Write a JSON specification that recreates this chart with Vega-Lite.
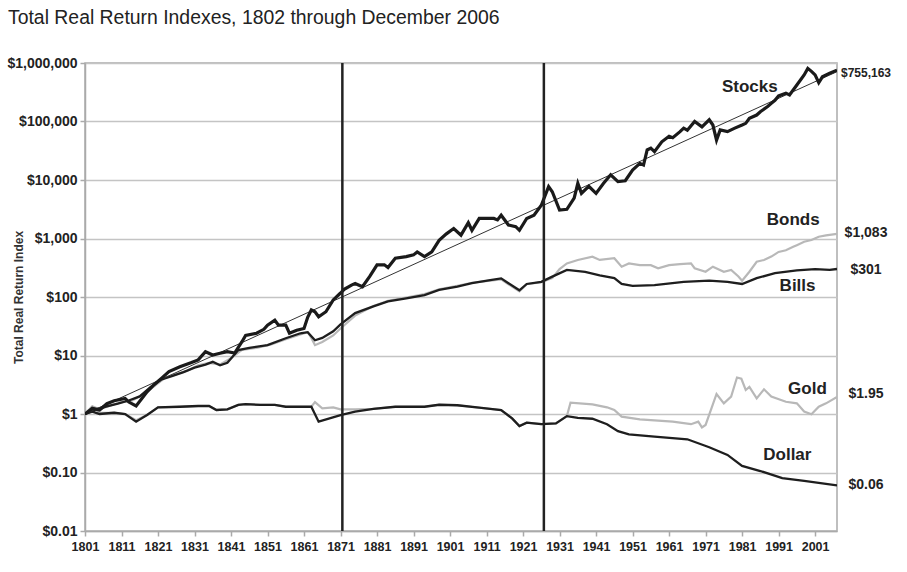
{
  "$schema": "https://vega.github.io/schema/vega-lite/v6.json",
  "width": 752,
  "height": 468,
  "autosize": {"type": "none"},
  "padding": {"left": 85, "top": 63, "right": 70, "bottom": 41},
  "background": "white",
  "title": {
    "text": "Total Real Return Indexes, 1802 through December 2006",
    "anchor": "start",
    "frame": "group",
    "dx": -77,
    "offset": 28,
    "fontSize": 19.4,
    "fontWeight": "normal",
    "font": "Liberation Sans",
    "color": "#222222"
  },
  "config": {
    "view": {"stroke": "#aaaaaa", "strokeWidth": 1.5},
    "font": "Liberation Sans",
    "axis": {"labelOverlap": false}
  },
  "datasets": {
    "lines": [
      {"series": "Stocks", "year": 1801, "value": 1},
      {"series": "Stocks", "year": 1803, "value": 1.25},
      {"series": "Stocks", "year": 1805, "value": 1.17},
      {"series": "Stocks", "year": 1807, "value": 1.5},
      {"series": "Stocks", "year": 1809, "value": 1.69},
      {"series": "Stocks", "year": 1812, "value": 1.85},
      {"series": "Stocks", "year": 1813, "value": 1.6},
      {"series": "Stocks", "year": 1815, "value": 1.37},
      {"series": "Stocks", "year": 1818, "value": 2.4},
      {"series": "Stocks", "year": 1820, "value": 3.2},
      {"series": "Stocks", "year": 1822, "value": 4.1},
      {"series": "Stocks", "year": 1824, "value": 5.3},
      {"series": "Stocks", "year": 1827, "value": 6.4},
      {"series": "Stocks", "year": 1830, "value": 7.5},
      {"series": "Stocks", "year": 1832, "value": 8.4},
      {"series": "Stocks", "year": 1834, "value": 11.6},
      {"series": "Stocks", "year": 1836, "value": 10.2},
      {"series": "Stocks", "year": 1838, "value": 10.9},
      {"series": "Stocks", "year": 1840, "value": 11.6},
      {"series": "Stocks", "year": 1842, "value": 11},
      {"series": "Stocks", "year": 1844, "value": 17.2},
      {"series": "Stocks", "year": 1845, "value": 22},
      {"series": "Stocks", "year": 1848, "value": 24},
      {"series": "Stocks", "year": 1850, "value": 28},
      {"series": "Stocks", "year": 1851, "value": 33},
      {"series": "Stocks", "year": 1853, "value": 40},
      {"series": "Stocks", "year": 1854, "value": 33},
      {"series": "Stocks", "year": 1856, "value": 33},
      {"series": "Stocks", "year": 1857, "value": 24},
      {"series": "Stocks", "year": 1859, "value": 27},
      {"series": "Stocks", "year": 1861, "value": 29},
      {"series": "Stocks", "year": 1862, "value": 45},
      {"series": "Stocks", "year": 1863, "value": 60},
      {"series": "Stocks", "year": 1864, "value": 56},
      {"series": "Stocks", "year": 1865, "value": 46},
      {"series": "Stocks", "year": 1867, "value": 56},
      {"series": "Stocks", "year": 1869, "value": 89},
      {"series": "Stocks", "year": 1871, "value": 117},
      {"series": "Stocks", "year": 1872, "value": 135},
      {"series": "Stocks", "year": 1874, "value": 160},
      {"series": "Stocks", "year": 1875, "value": 170},
      {"series": "Stocks", "year": 1877, "value": 150},
      {"series": "Stocks", "year": 1879, "value": 225},
      {"series": "Stocks", "year": 1881, "value": 355},
      {"series": "Stocks", "year": 1883, "value": 355},
      {"series": "Stocks", "year": 1884, "value": 320},
      {"series": "Stocks", "year": 1886, "value": 460},
      {"series": "Stocks", "year": 1889, "value": 490},
      {"series": "Stocks", "year": 1891, "value": 525},
      {"series": "Stocks", "year": 1892, "value": 590},
      {"series": "Stocks", "year": 1894, "value": 490},
      {"series": "Stocks", "year": 1896, "value": 590},
      {"series": "Stocks", "year": 1898, "value": 930},
      {"series": "Stocks", "year": 1900, "value": 1200},
      {"series": "Stocks", "year": 1902, "value": 1480},
      {"series": "Stocks", "year": 1904, "value": 1140},
      {"series": "Stocks", "year": 1906, "value": 1860},
      {"series": "Stocks", "year": 1907, "value": 1380},
      {"series": "Stocks", "year": 1909, "value": 2200},
      {"series": "Stocks", "year": 1913, "value": 2200},
      {"series": "Stocks", "year": 1914, "value": 2080},
      {"series": "Stocks", "year": 1915, "value": 2500},
      {"series": "Stocks", "year": 1917, "value": 1700},
      {"series": "Stocks", "year": 1919, "value": 1590},
      {"series": "Stocks", "year": 1920, "value": 1380},
      {"series": "Stocks", "year": 1922, "value": 2200},
      {"series": "Stocks", "year": 1924, "value": 2500},
      {"series": "Stocks", "year": 1926, "value": 3700},
      {"series": "Stocks", "year": 1928, "value": 7700},
      {"series": "Stocks", "year": 1929, "value": 6300},
      {"series": "Stocks", "year": 1931, "value": 3070},
      {"series": "Stocks", "year": 1933, "value": 3150},
      {"series": "Stocks", "year": 1935, "value": 4900},
      {"series": "Stocks", "year": 1936, "value": 8800},
      {"series": "Stocks", "year": 1937, "value": 5900},
      {"series": "Stocks", "year": 1939, "value": 7800},
      {"series": "Stocks", "year": 1941, "value": 5900},
      {"series": "Stocks", "year": 1943, "value": 8700},
      {"series": "Stocks", "year": 1945, "value": 12300},
      {"series": "Stocks", "year": 1947, "value": 9400},
      {"series": "Stocks", "year": 1949, "value": 9700},
      {"series": "Stocks", "year": 1951, "value": 14800},
      {"series": "Stocks", "year": 1953, "value": 19300},
      {"series": "Stocks", "year": 1954, "value": 18000},
      {"series": "Stocks", "year": 1955, "value": 32600},
      {"series": "Stocks", "year": 1956, "value": 35000},
      {"series": "Stocks", "year": 1957, "value": 30500},
      {"series": "Stocks", "year": 1959, "value": 45000},
      {"series": "Stocks", "year": 1961, "value": 56000},
      {"series": "Stocks", "year": 1962, "value": 53000},
      {"series": "Stocks", "year": 1964, "value": 67000},
      {"series": "Stocks", "year": 1965, "value": 77000},
      {"series": "Stocks", "year": 1966, "value": 71000},
      {"series": "Stocks", "year": 1968, "value": 100000},
      {"series": "Stocks", "year": 1970, "value": 81000},
      {"series": "Stocks", "year": 1972, "value": 107000},
      {"series": "Stocks", "year": 1973, "value": 87000},
      {"series": "Stocks", "year": 1974, "value": 48000},
      {"series": "Stocks", "year": 1975, "value": 72000},
      {"series": "Stocks", "year": 1977, "value": 67000},
      {"series": "Stocks", "year": 1979, "value": 77000},
      {"series": "Stocks", "year": 1981, "value": 87000},
      {"series": "Stocks", "year": 1982, "value": 93000},
      {"series": "Stocks", "year": 1983, "value": 113000},
      {"series": "Stocks", "year": 1985, "value": 129000},
      {"series": "Stocks", "year": 1986, "value": 147000},
      {"series": "Stocks", "year": 1988, "value": 180000},
      {"series": "Stocks", "year": 1989, "value": 204000},
      {"series": "Stocks", "year": 1990, "value": 230000},
      {"series": "Stocks", "year": 1991, "value": 274000},
      {"series": "Stocks", "year": 1993, "value": 305000},
      {"series": "Stocks", "year": 1994, "value": 284000},
      {"series": "Stocks", "year": 1996, "value": 420000},
      {"series": "Stocks", "year": 1998, "value": 625000},
      {"series": "Stocks", "year": 1999, "value": 810000},
      {"series": "Stocks", "year": 2000, "value": 720000},
      {"series": "Stocks", "year": 2001, "value": 625000},
      {"series": "Stocks", "year": 2002, "value": 460000},
      {"series": "Stocks", "year": 2003, "value": 580000},
      {"series": "Stocks", "year": 2005, "value": 670000},
      {"series": "Stocks", "year": 2007, "value": 755163},

      {"series": "Bills", "year": 1801, "value": 1},
      {"series": "Bills", "year": 1804, "value": 1.2},
      {"series": "Bills", "year": 1807, "value": 1.35},
      {"series": "Bills", "year": 1810, "value": 1.5},
      {"series": "Bills", "year": 1813, "value": 1.7},
      {"series": "Bills", "year": 1816, "value": 2.0},
      {"series": "Bills", "year": 1819, "value": 2.9},
      {"series": "Bills", "year": 1822, "value": 3.9},
      {"series": "Bills", "year": 1825, "value": 4.5},
      {"series": "Bills", "year": 1828, "value": 5.2},
      {"series": "Bills", "year": 1831, "value": 6.2},
      {"series": "Bills", "year": 1834, "value": 7.0},
      {"series": "Bills", "year": 1836, "value": 7.8},
      {"series": "Bills", "year": 1838, "value": 6.8},
      {"series": "Bills", "year": 1840, "value": 7.5},
      {"series": "Bills", "year": 1843, "value": 12.4},
      {"series": "Bills", "year": 1846, "value": 13.5},
      {"series": "Bills", "year": 1851, "value": 15},
      {"series": "Bills", "year": 1856, "value": 19.7},
      {"series": "Bills", "year": 1860, "value": 24},
      {"series": "Bills", "year": 1862, "value": 25},
      {"series": "Bills", "year": 1864, "value": 18.2},
      {"series": "Bills", "year": 1866, "value": 20},
      {"series": "Bills", "year": 1869, "value": 26},
      {"series": "Bills", "year": 1871, "value": 34},
      {"series": "Bills", "year": 1875, "value": 53},
      {"series": "Bills", "year": 1880, "value": 69},
      {"series": "Bills", "year": 1884, "value": 84},
      {"series": "Bills", "year": 1889, "value": 95},
      {"series": "Bills", "year": 1894, "value": 108},
      {"series": "Bills", "year": 1898, "value": 132},
      {"series": "Bills", "year": 1903, "value": 150},
      {"series": "Bills", "year": 1907, "value": 172},
      {"series": "Bills", "year": 1912, "value": 195},
      {"series": "Bills", "year": 1915, "value": 208},
      {"series": "Bills", "year": 1917, "value": 172},
      {"series": "Bills", "year": 1920, "value": 130},
      {"series": "Bills", "year": 1922, "value": 167},
      {"series": "Bills", "year": 1926, "value": 182},
      {"series": "Bills", "year": 1929, "value": 223},
      {"series": "Bills", "year": 1933, "value": 290},
      {"series": "Bills", "year": 1938, "value": 268},
      {"series": "Bills", "year": 1942, "value": 235},
      {"series": "Bills", "year": 1946, "value": 210},
      {"series": "Bills", "year": 1948, "value": 167},
      {"series": "Bills", "year": 1951, "value": 155},
      {"series": "Bills", "year": 1957, "value": 160},
      {"series": "Bills", "year": 1965, "value": 182},
      {"series": "Bills", "year": 1972, "value": 190},
      {"series": "Bills", "year": 1977, "value": 182},
      {"series": "Bills", "year": 1981, "value": 167},
      {"series": "Bills", "year": 1985, "value": 210},
      {"series": "Bills", "year": 1990, "value": 255},
      {"series": "Bills", "year": 1996, "value": 285},
      {"series": "Bills", "year": 2001, "value": 300},
      {"series": "Bills", "year": 2005, "value": 290},
      {"series": "Bills", "year": 2007, "value": 301},

      {"series": "Bonds", "year": 1801, "value": 1},
      {"series": "Bonds", "year": 1803, "value": 1.35},
      {"series": "Bonds", "year": 1805, "value": 1.2},
      {"series": "Bonds", "year": 1808, "value": 1.4},
      {"series": "Bonds", "year": 1811, "value": 1.6},
      {"series": "Bonds", "year": 1814, "value": 1.7},
      {"series": "Bonds", "year": 1817, "value": 2.2},
      {"series": "Bonds", "year": 1820, "value": 3.0},
      {"series": "Bonds", "year": 1823, "value": 4.2},
      {"series": "Bonds", "year": 1826, "value": 4.8},
      {"series": "Bonds", "year": 1829, "value": 5.5},
      {"series": "Bonds", "year": 1832, "value": 6.8},
      {"series": "Bonds", "year": 1835, "value": 7.5},
      {"series": "Bonds", "year": 1838, "value": 7.0},
      {"series": "Bonds", "year": 1841, "value": 9},
      {"series": "Bonds", "year": 1844, "value": 12.5},
      {"series": "Bonds", "year": 1848, "value": 13.5},
      {"series": "Bonds", "year": 1852, "value": 15.5},
      {"series": "Bonds", "year": 1856, "value": 19},
      {"series": "Bonds", "year": 1860, "value": 23},
      {"series": "Bonds", "year": 1862, "value": 25},
      {"series": "Bonds", "year": 1863, "value": 20},
      {"series": "Bonds", "year": 1864, "value": 15},
      {"series": "Bonds", "year": 1866, "value": 17},
      {"series": "Bonds", "year": 1869, "value": 22},
      {"series": "Bonds", "year": 1871, "value": 29},
      {"series": "Bonds", "year": 1875, "value": 48},
      {"series": "Bonds", "year": 1880, "value": 70},
      {"series": "Bonds", "year": 1884, "value": 86},
      {"series": "Bonds", "year": 1889, "value": 98},
      {"series": "Bonds", "year": 1894, "value": 112},
      {"series": "Bonds", "year": 1898, "value": 135},
      {"series": "Bonds", "year": 1903, "value": 155},
      {"series": "Bonds", "year": 1907, "value": 175},
      {"series": "Bonds", "year": 1912, "value": 190},
      {"series": "Bonds", "year": 1915, "value": 200},
      {"series": "Bonds", "year": 1917, "value": 165},
      {"series": "Bonds", "year": 1920, "value": 125},
      {"series": "Bonds", "year": 1922, "value": 165},
      {"series": "Bonds", "year": 1926, "value": 180},
      {"series": "Bonds", "year": 1929, "value": 210},
      {"series": "Bonds", "year": 1931, "value": 300},
      {"series": "Bonds", "year": 1933, "value": 375},
      {"series": "Bonds", "year": 1936, "value": 430},
      {"series": "Bonds", "year": 1940, "value": 490},
      {"series": "Bonds", "year": 1942, "value": 430},
      {"series": "Bonds", "year": 1946, "value": 460},
      {"series": "Bonds", "year": 1948, "value": 330},
      {"series": "Bonds", "year": 1950, "value": 375},
      {"series": "Bonds", "year": 1953, "value": 350},
      {"series": "Bonds", "year": 1956, "value": 350},
      {"series": "Bonds", "year": 1958, "value": 310},
      {"series": "Bonds", "year": 1961, "value": 350},
      {"series": "Bonds", "year": 1964, "value": 365},
      {"series": "Bonds", "year": 1967, "value": 375},
      {"series": "Bonds", "year": 1968, "value": 310},
      {"series": "Bonds", "year": 1971, "value": 270},
      {"series": "Bonds", "year": 1973, "value": 330},
      {"series": "Bonds", "year": 1976, "value": 270},
      {"series": "Bonds", "year": 1978, "value": 290},
      {"series": "Bonds", "year": 1980, "value": 224},
      {"series": "Bonds", "year": 1981, "value": 190},
      {"series": "Bonds", "year": 1983, "value": 270},
      {"series": "Bonds", "year": 1985, "value": 400},
      {"series": "Bonds", "year": 1987, "value": 430},
      {"series": "Bonds", "year": 1989, "value": 490},
      {"series": "Bonds", "year": 1991, "value": 590},
      {"series": "Bonds", "year": 1993, "value": 630},
      {"series": "Bonds", "year": 1995, "value": 720},
      {"series": "Bonds", "year": 1996, "value": 770},
      {"series": "Bonds", "year": 1998, "value": 880},
      {"series": "Bonds", "year": 2000, "value": 940},
      {"series": "Bonds", "year": 2002, "value": 1070},
      {"series": "Bonds", "year": 2004, "value": 1130},
      {"series": "Bonds", "year": 2007, "value": 1200},

      {"series": "Dollar", "year": 1801, "value": 1},
      {"series": "Dollar", "year": 1803, "value": 1.1},
      {"series": "Dollar", "year": 1805, "value": 1.0},
      {"series": "Dollar", "year": 1809, "value": 1.05},
      {"series": "Dollar", "year": 1812, "value": 1.0},
      {"series": "Dollar", "year": 1815, "value": 0.74},
      {"series": "Dollar", "year": 1818, "value": 0.96},
      {"series": "Dollar", "year": 1821, "value": 1.3},
      {"series": "Dollar", "year": 1827, "value": 1.33},
      {"series": "Dollar", "year": 1832, "value": 1.37},
      {"series": "Dollar", "year": 1835, "value": 1.37},
      {"series": "Dollar", "year": 1837, "value": 1.17},
      {"series": "Dollar", "year": 1840, "value": 1.2},
      {"series": "Dollar", "year": 1843, "value": 1.43},
      {"series": "Dollar", "year": 1845, "value": 1.48},
      {"series": "Dollar", "year": 1849, "value": 1.43},
      {"series": "Dollar", "year": 1853, "value": 1.43},
      {"series": "Dollar", "year": 1856, "value": 1.33},
      {"series": "Dollar", "year": 1860, "value": 1.33},
      {"series": "Dollar", "year": 1863, "value": 1.33},
      {"series": "Dollar", "year": 1865, "value": 0.74},
      {"series": "Dollar", "year": 1868, "value": 0.84},
      {"series": "Dollar", "year": 1871, "value": 0.96},
      {"series": "Dollar", "year": 1875, "value": 1.1},
      {"series": "Dollar", "year": 1880, "value": 1.22},
      {"series": "Dollar", "year": 1886, "value": 1.33},
      {"series": "Dollar", "year": 1894, "value": 1.33},
      {"series": "Dollar", "year": 1898, "value": 1.44},
      {"series": "Dollar", "year": 1903, "value": 1.41},
      {"series": "Dollar", "year": 1909, "value": 1.28},
      {"series": "Dollar", "year": 1915, "value": 1.17},
      {"series": "Dollar", "year": 1918, "value": 0.84},
      {"series": "Dollar", "year": 1920, "value": 0.62},
      {"series": "Dollar", "year": 1922, "value": 0.71},
      {"series": "Dollar", "year": 1926, "value": 0.67},
      {"series": "Dollar", "year": 1930, "value": 0.69},
      {"series": "Dollar", "year": 1933, "value": 0.92},
      {"series": "Dollar", "year": 1936, "value": 0.86},
      {"series": "Dollar", "year": 1940, "value": 0.83},
      {"series": "Dollar", "year": 1944, "value": 0.67},
      {"series": "Dollar", "year": 1947, "value": 0.51},
      {"series": "Dollar", "year": 1950, "value": 0.45},
      {"series": "Dollar", "year": 1957, "value": 0.41},
      {"series": "Dollar", "year": 1966, "value": 0.37},
      {"series": "Dollar", "year": 1972, "value": 0.27},
      {"series": "Dollar", "year": 1977, "value": 0.2},
      {"series": "Dollar", "year": 1981, "value": 0.13},
      {"series": "Dollar", "year": 1986, "value": 0.106},
      {"series": "Dollar", "year": 1992, "value": 0.08},
      {"series": "Dollar", "year": 1998, "value": 0.072},
      {"series": "Dollar", "year": 2007, "value": 0.06},

      {"series": "Gold", "year": 1801, "value": 1},
      {"series": "Gold", "year": 1803, "value": 1.33},
      {"series": "Gold", "year": 1805, "value": 1.05},
      {"series": "Gold", "year": 1809, "value": 1.05},
      {"series": "Gold", "year": 1812, "value": 1.0},
      {"series": "Gold", "year": 1815, "value": 0.78},
      {"series": "Gold", "year": 1818, "value": 0.96},
      {"series": "Gold", "year": 1821, "value": 1.3},
      {"series": "Gold", "year": 1827, "value": 1.33},
      {"series": "Gold", "year": 1832, "value": 1.37},
      {"series": "Gold", "year": 1835, "value": 1.37},
      {"series": "Gold", "year": 1837, "value": 1.17},
      {"series": "Gold", "year": 1840, "value": 1.2},
      {"series": "Gold", "year": 1843, "value": 1.43},
      {"series": "Gold", "year": 1845, "value": 1.48},
      {"series": "Gold", "year": 1849, "value": 1.43},
      {"series": "Gold", "year": 1853, "value": 1.43},
      {"series": "Gold", "year": 1856, "value": 1.33},
      {"series": "Gold", "year": 1860, "value": 1.33},
      {"series": "Gold", "year": 1863, "value": 1.33},
      {"series": "Gold", "year": 1864, "value": 1.6},
      {"series": "Gold", "year": 1866, "value": 1.25},
      {"series": "Gold", "year": 1869, "value": 1.3},
      {"series": "Gold", "year": 1871, "value": 1.2},
      {"series": "Gold", "year": 1875, "value": 1.2},
      {"series": "Gold", "year": 1880, "value": 1.22},
      {"series": "Gold", "year": 1886, "value": 1.33},
      {"series": "Gold", "year": 1894, "value": 1.33},
      {"series": "Gold", "year": 1898, "value": 1.44},
      {"series": "Gold", "year": 1903, "value": 1.41},
      {"series": "Gold", "year": 1909, "value": 1.28},
      {"series": "Gold", "year": 1915, "value": 1.17},
      {"series": "Gold", "year": 1918, "value": 0.84},
      {"series": "Gold", "year": 1920, "value": 0.62},
      {"series": "Gold", "year": 1922, "value": 0.71},
      {"series": "Gold", "year": 1926, "value": 0.67},
      {"series": "Gold", "year": 1930, "value": 0.69},
      {"series": "Gold", "year": 1933, "value": 0.92},
      {"series": "Gold", "year": 1934, "value": 1.56},
      {"series": "Gold", "year": 1940, "value": 1.46},
      {"series": "Gold", "year": 1944, "value": 1.3},
      {"series": "Gold", "year": 1946, "value": 1.17},
      {"series": "Gold", "year": 1948, "value": 0.9},
      {"series": "Gold", "year": 1953, "value": 0.81},
      {"series": "Gold", "year": 1962, "value": 0.74},
      {"series": "Gold", "year": 1967, "value": 0.67},
      {"series": "Gold", "year": 1969, "value": 0.74},
      {"series": "Gold", "year": 1970, "value": 0.59},
      {"series": "Gold", "year": 1971, "value": 0.65},
      {"series": "Gold", "year": 1974, "value": 2.2},
      {"series": "Gold", "year": 1976, "value": 1.52},
      {"series": "Gold", "year": 1978, "value": 1.98},
      {"series": "Gold", "year": 1979.6, "value": 4.2},
      {"series": "Gold", "year": 1980.8, "value": 4.0},
      {"series": "Gold", "year": 1982, "value": 2.57},
      {"series": "Gold", "year": 1983, "value": 2.9},
      {"series": "Gold", "year": 1985, "value": 1.85},
      {"series": "Gold", "year": 1987, "value": 2.64},
      {"series": "Gold", "year": 1989, "value": 1.98},
      {"series": "Gold", "year": 1993, "value": 1.62},
      {"series": "Gold", "year": 1996, "value": 1.52},
      {"series": "Gold", "year": 1998, "value": 1.1},
      {"series": "Gold", "year": 2000, "value": 0.99},
      {"series": "Gold", "year": 2002, "value": 1.33},
      {"series": "Gold", "year": 2004, "value": 1.52},
      {"series": "Gold", "year": 2007, "value": 1.95},

      {"series": "Trend", "year": 1801, "value": 1},
      {"series": "Trend", "year": 2007, "value": 710000}
    ],
    "vlines": [{"year": 1871.5}, {"year": 1926.7}],
    "names": [
      {"label": "Stocks", "year": 1983.1, "value": 389000},
      {"label": "Bonds", "year": 1995.0, "value": 2070},
      {"label": "Bills", "year": 1996.2, "value": 152},
      {"label": "Gold", "year": 1998.9, "value": 2.67},
      {"label": "Dollar", "year": 1993.4, "value": 0.2}
    ],
    "ends": [
      {"label": "$755,163", "year": 2007, "value": 680000, "size": "small"},
      {"label": "$1,083", "year": 2007, "value": 1230, "size": "large"},
      {"label": "$301", "year": 2007, "value": 295, "size": "large"},
      {"label": "$1.95", "year": 2007, "value": 2.2, "size": "large"},
      {"label": "$0.06", "year": 2007, "value": 0.06, "size": "large"}
    ]
  },
  "layer": [
    {
      "data": {"name": "lines"},
      "transform": [{"filter": "datum.series === 'Bonds' || datum.series === 'Gold'"}],
      "mark": {"type": "line", "color": "#b8b8b8", "strokeWidth": 2.2, "clip": true},
      "encoding": {
        "x": {
          "field": "year",
          "type": "quantitative",
          "scale": {"domain": [1801, 2007], "nice": false, "zero": false},
          "axis": {
            "title": null,
            "values": [1801, 1811, 1821, 1831, 1841, 1851, 1861, 1871, 1881, 1891, 1901, 1911, 1921, 1931, 1941, 1951, 1961, 1971, 1981, 1991, 2001],
            "tickCount": 40,
            "format": "d",
            "grid": false,
            "labelOverlap": false,
            "labelFont": "Liberation Sans",
            "labelFontSize": 12.5,
            "labelFontWeight": "bold",
            "labelColor": "#222222",
            "labelPadding": 4,
            "labelFlush": false,
            "tickSize": 5,
            "tickColor": "#aaaaaa",
            "tickWidth": 1.5,
            "domainColor": "#aaaaaa",
            "domainWidth": 1.5
          }
        },
        "y": {
          "field": "value",
          "type": "quantitative",
          "scale": {"type": "log", "domain": [0.01, 1000000], "nice": false},
          "axis": {
            "title": "Total Real Return Index",
            "titleFont": "Liberation Sans",
            "titleFontSize": 12,
            "titleFontWeight": "bold",
            "titleColor": "#333333",
            "titleX": -67,
            "titleY": 234,
            "titleAngle": -90,
            "titleAlign": "center",
            "titleBaseline": "middle",
            "values": [0.01, 0.1, 1, 10, 100, 1000, 10000, 100000, 1000000],
            "tickCount": 20,
            "labelExpr": "datum.value >= 1 ? '$' + format(datum.value, ',') : '$' + format(datum.value, '.2f')",
            "labelOverlap": false,
            "labelFont": "Liberation Sans",
            "labelFontSize": 14,
            "labelFontWeight": "bold",
            "labelColor": "#222222",
            "labelPadding": 3,
            "labelFlush": false,
            "tickSize": 5,
            "tickColor": "#aaaaaa",
            "tickWidth": 1.5,
            "domainColor": "#aaaaaa",
            "domainWidth": 1.5,
            "grid": true,
            "gridColor": "#c4c4c4",
            "gridWidth": 1.5
          }
        },
        "detail": {"field": "series", "type": "nominal"}
      }
    },
    {
      "data": {"name": "lines"},
      "transform": [{"filter": "datum.series === 'Bills' || datum.series === 'Dollar'"}],
      "mark": {"type": "line", "color": "#1e1e1e", "strokeWidth": 2.3, "clip": true},
      "encoding": {
        "x": {"field": "year", "type": "quantitative"},
        "y": {"field": "value", "type": "quantitative"},
        "detail": {"field": "series", "type": "nominal"}
      }
    },
    {
      "data": {"name": "lines"},
      "transform": [{"filter": "datum.series === 'Trend'"}],
      "mark": {"type": "line", "color": "#333333", "strokeWidth": 1, "clip": true},
      "encoding": {
        "x": {"field": "year", "type": "quantitative"},
        "y": {"field": "value", "type": "quantitative"}
      }
    },
    {
      "data": {"name": "lines"},
      "transform": [{"filter": "datum.series === 'Stocks'"}],
      "mark": {"type": "line", "color": "#1a1a1a", "strokeWidth": 3.2, "clip": true},
      "encoding": {
        "x": {"field": "year", "type": "quantitative"},
        "y": {"field": "value", "type": "quantitative"}
      }
    },
    {
      "data": {"name": "vlines"},
      "mark": {"type": "rule", "color": "#222222", "strokeWidth": 2.5},
      "encoding": {
        "x": {"field": "year", "type": "quantitative"}
      }
    },
    {
      "data": {"name": "names"},
      "mark": {"type": "text", "font": "Liberation Sans", "fontSize": 17, "fontWeight": "bold", "color": "#222222", "align": "center", "baseline": "middle"},
      "encoding": {
        "x": {"field": "year", "type": "quantitative"},
        "y": {"field": "value", "type": "quantitative"},
        "text": {"field": "label"}
      }
    },
    {
      "data": {"name": "ends"},
      "transform": [{"filter": "datum.size === 'small'"}],
      "mark": {"type": "text", "font": "Liberation Sans", "fontSize": 12, "fontWeight": "bold", "color": "#222222", "align": "center", "baseline": "middle", "dx": 29},
      "encoding": {
        "x": {"field": "year", "type": "quantitative"},
        "y": {"field": "value", "type": "quantitative"},
        "text": {"field": "label"}
      }
    },
    {
      "data": {"name": "ends"},
      "transform": [{"filter": "datum.size === 'large'"}],
      "mark": {"type": "text", "font": "Liberation Sans", "fontSize": 14, "fontWeight": "bold", "color": "#222222", "align": "center", "baseline": "middle", "dx": 29},
      "encoding": {
        "x": {"field": "year", "type": "quantitative"},
        "y": {"field": "value", "type": "quantitative"},
        "text": {"field": "label"}
      }
    }
  ]
}
